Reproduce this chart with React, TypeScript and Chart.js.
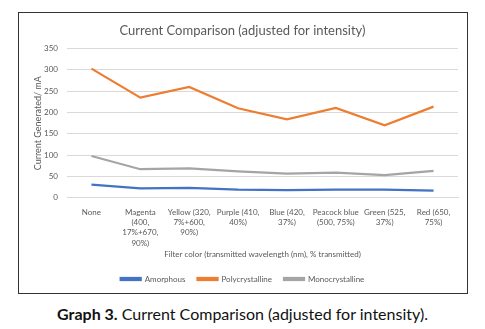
import React, { useEffect, useRef } from "react";
import { Chart, registerables } from "chart.js";

Chart.register(...registerables);

const categories: (string | string[])[] = [
  "None",
  ["Magenta", "(400,", "17%+670,", "90%)"],
  ["Yellow (320,", "7%+600,", "90%)"],
  ["Purple (410,", "40%)"],
  ["Blue (420,", "37%)"],
  ["Peacock blue", "(500, 75%)"],
  ["Green (525,", "37%)"],
  ["Red (650,", "75%)"],
];
const amorphous = [31, 22, 23, 19, 18, 19, 19, 17];
const polycrystalline = [303, 235, 260, 210, 184, 211, 170, 214];
const monocrystalline = [98, 67, 69, 62, 57, 59, 53, 63];

const FONT = "Lato, 'Open Sans', sans-serif";

export default function App() {
  const ref = useRef<HTMLCanvasElement>(null);
  useEffect(() => {
    if (!ref.current) return;
    const chart = new Chart(ref.current, {
      type: "line",
      data: {
        labels: categories,
        datasets: [
          { label: "Amorphous", data: amorphous, borderColor: "#4472c4", backgroundColor: "#4472c4", borderWidth: 2.25, pointRadius: 0, tension: 0 },
          { label: "Polycrystalline", data: polycrystalline, borderColor: "#ed7d31", backgroundColor: "#ed7d31", borderWidth: 2.25, pointRadius: 0, tension: 0 },
          { label: "Monocrystalline", data: monocrystalline, borderColor: "#a5a5a5", backgroundColor: "#a5a5a5", borderWidth: 2.25, pointRadius: 0, tension: 0 },
        ],
      },
      options: {
        animation: false,
        responsive: false,
        maintainAspectRatio: false,
        layout: { padding: { left: 8, right: 9, top: 4, bottom: 0 } },
        plugins: {
          title: {
            display: true,
            text: "Current Comparison (adjusted for intensity)",
            color: "#595959",
            font: { family: FONT, size: 13, weight: "normal" },
            padding: { top: 6, bottom: 10 },
          },
          legend: {
            position: "bottom",
            labels: {
              color: "#595959",
              font: { family: FONT, size: 8 },
              boxWidth: 20,
              boxHeight: 2,
              padding: 12,
            },
          },
          tooltip: { enabled: false },
        },
        scales: {
          x: {
            offset: true,
            grid: { display: false },
            border: { color: "#d9d9d9" },
            ticks: {
              color: "#595959",
              font: { family: FONT, size: 8, lineHeight: 1.3 },
              maxRotation: 0,
              minRotation: 0,
              autoSkip: false,
              padding: 1,
            },
            title: {
              display: true,
              text: "Filter color (transmitted wavelength (nm), % transmitted)",
              color: "#595959",
              font: { family: FONT, size: 8 },
              padding: { top: 0, bottom: 4 },
            },
          },
          y: {
            min: 0,
            max: 350,
            afterFit: (scale: any) => {
              scale.width = 40;
            },
            grid: { color: "#d9d9d9", drawTicks: false },
            border: { display: false },
            ticks: {
              stepSize: 50,
              color: "#595959",
              font: { family: FONT, size: 8 },
              padding: 9,
            },
            title: {
              display: true,
              text: "Current Generated/ mA",
              color: "#595959",
              font: { family: FONT, size: 9 },
              padding: { top: 6, bottom: 2 },
            },
          },
        },
      },
    });
    return () => chart.destroy();
  }, []);

  return (
    <div style={{ position: "fixed", left: 0, top: 0, width: 485, height: 329, background: "#fff" }}>
      <div style={{ position: "absolute", left: 18, top: 12, width: 448, height: 280, border: "1px solid #333", background: "#fff" }}>
        <canvas ref={ref} width={448} height={280} style={{ display: "block", width: 448, height: 280 }} />
      </div>
      <div style={{ position: "absolute", left: 0, top: 304, width: 485, textAlign: "center", fontFamily: "Lato, 'Open Sans', sans-serif", fontSize: 16, color: "#111" }}>
        <b>Graph 3.</b> Current Comparison (adjusted for intensity).
      </div>
    </div>
  );
}
